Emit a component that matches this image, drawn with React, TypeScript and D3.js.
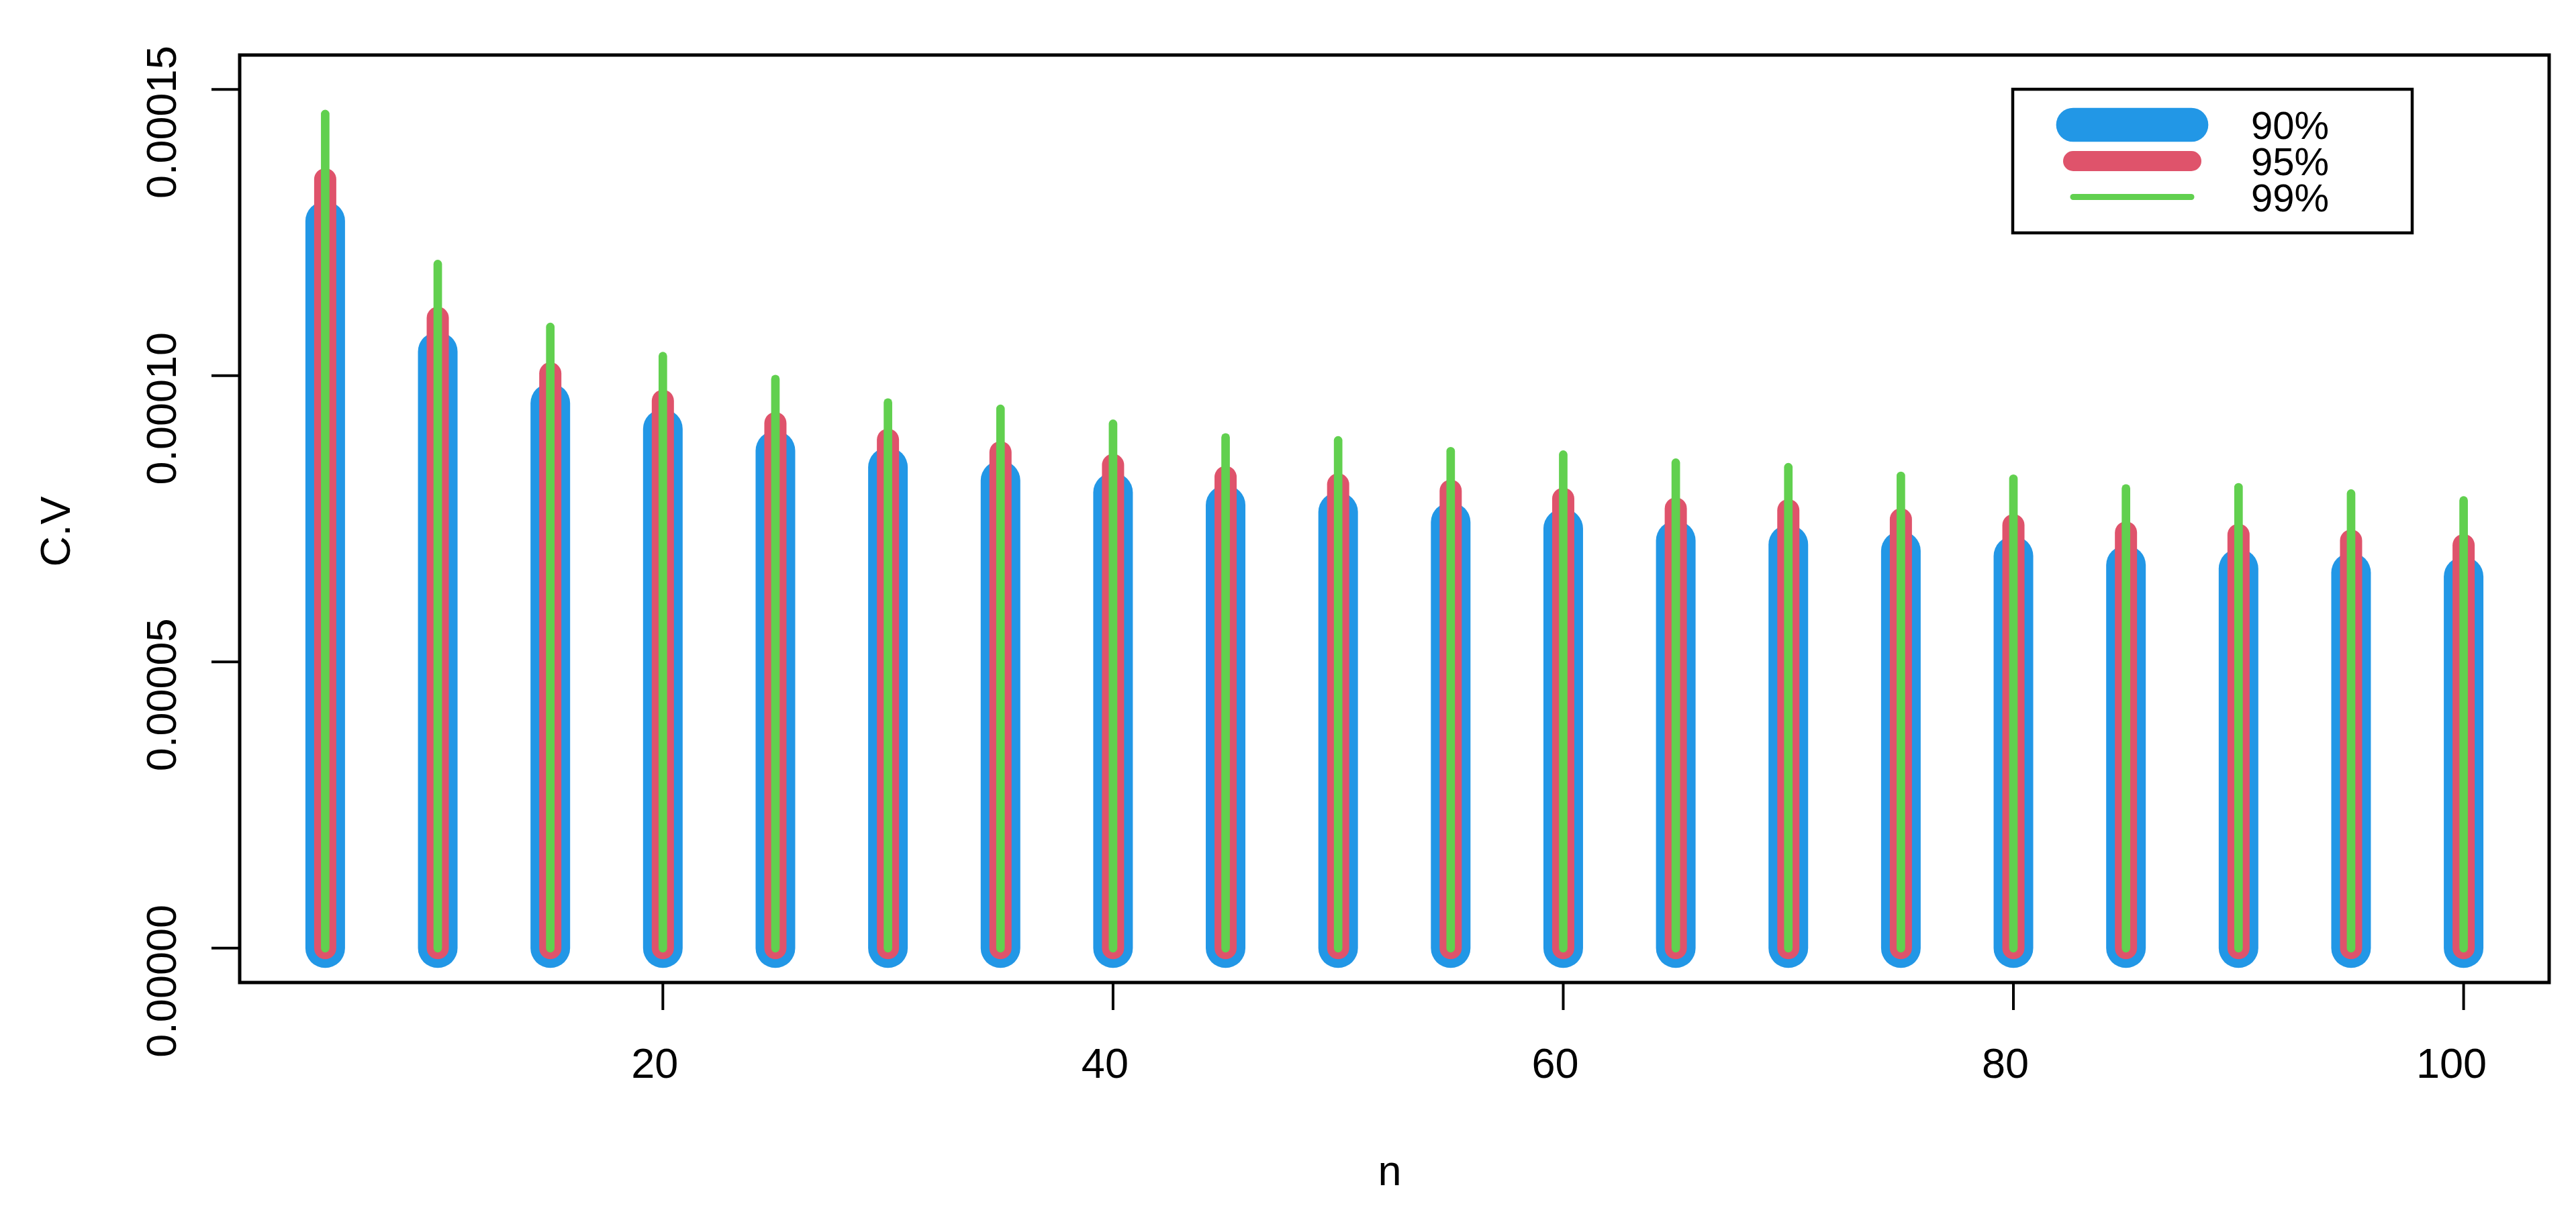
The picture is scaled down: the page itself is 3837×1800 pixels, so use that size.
import * as d3 from "d3";
import { useEffect, useRef } from "react";

// sample sizes and C.V values
const nValues = [5, 10, 15, 20, 25, 30, 35, 40, 45, 50, 55, 60, 65, 70, 75, 80, 85, 90, 95, 100];
const cv90 = [
  1.270e-4, 1.042e-4, 9.52e-5, 9.07e-5, 8.69e-5, 8.40e-5, 8.17e-5, 7.96e-5, 7.74e-5, 7.62e-5,
  7.44e-5, 7.33e-5, 7.12e-5, 7.05e-5, 6.94e-5, 6.85e-5, 6.69e-5, 6.63e-5, 6.56e-5, 6.49e-5,
];
const cv95 = [
  1.343e-4, 1.101e-4, 1.004e-4, 9.56e-5, 9.17e-5, 8.88e-5, 8.66e-5, 8.44e-5, 8.23e-5, 8.10e-5,
  7.99e-5, 7.85e-5, 7.68e-5, 7.65e-5, 7.49e-5, 7.39e-5, 7.26e-5, 7.22e-5, 7.12e-5, 7.04e-5,
];
const cv99 = [
  1.457e-4, 1.195e-4, 1.085e-4, 1.034e-4, 9.94e-5, 9.53e-5, 9.42e-5, 9.16e-5, 8.92e-5, 8.87e-5,
  8.68e-5, 8.62e-5, 8.48e-5, 8.40e-5, 8.25e-5, 8.20e-5, 8.03e-5, 8.05e-5, 7.94e-5, 7.82e-5,
];
const xTicks = [20, 40, 60, 80, 100];
const yTicks = [0, 0.00005, 0.0001, 0.00015];
const legendLabels = ["90%", "95%", "99%"];

const App = () => {
  const ref = useRef(null);
  useEffect(() => {
    const width = 3837,
      height = 1800;
    const font = "'Liberation Sans', Arial, Helvetica, sans-serif";

    const svg = d3.select(ref.current);
    svg.selectAll("*").remove();
    svg.append("rect").attr("width", width).attr("height", height).attr("fill", "#fff");

    // R style: 4% padding around the data range
    const xDom = [5, 100];
    const xPad = (xDom[1] - xDom[0]) * 0.04;
    const yDom = [0, 0.00015];
    const yPad = (yDom[1] - yDom[0]) * 0.04;
    const left = 357,
      right = 3797,
      top = 82,
      bottom = 1464;

    const x = d3.scaleLinear().domain([xDom[0] - xPad, xDom[1] + xPad]).range([left, right]);
    const y = d3.scaleLinear().domain([yDom[0] - yPad, yDom[1] + yPad]).range([bottom, top]);

    // bars drawn as thick round-capped lines (type = "h")
    const series = [
      { values: cv90, color: "#2297E6", lw: 59 },
      { values: cv95, color: "#DF536B", lw: 33 },
      { values: cv99, color: "#61D04F", lw: 12.7 },
    ];
    series.forEach((s) => {
      svg
        .append("g")
        .selectAll("line")
        .data(nValues)
        .join("line")
        .attr("x1", (d) => x(d))
        .attr("x2", (d) => x(d))
        .attr("y1", y(0))
        .attr("y2", (d, i) => y(s.values[i]))
        .attr("stroke", s.color)
        .attr("stroke-width", s.lw)
        .attr("stroke-linecap", "round");
    });

    // box
    svg
      .append("rect")
      .attr("x", left)
      .attr("y", top)
      .attr("width", right - left)
      .attr("height", bottom - top)
      .attr("fill", "none")
      .attr("stroke", "#000")
      .attr("stroke-width", 5);

    // x axis
    const gx = svg.append("g");
    gx.selectAll("line")
      .data(xTicks)
      .join("line")
      .attr("x1", (d) => x(d))
      .attr("x2", (d) => x(d))
      .attr("y1", bottom)
      .attr("y2", bottom + 41)
      .attr("stroke", "#000")
      .attr("stroke-width", 4);
    gx.selectAll("text")
      .data(xTicks)
      .join("text")
      .attr("x", (d) => x(d) - String(d).length * 6)
      .attr("y", 1606)
      .attr("text-anchor", "middle")
      .attr("font-family", font)
      .attr("font-size", 63)
      .text((d) => String(d));

    // y axis
    const fmt = d3.format(".5f");
    const gy = svg.append("g");
    gy.selectAll("line")
      .data(yTicks)
      .join("line")
      .attr("x1", left - 42)
      .attr("x2", left)
      .attr("y1", (d) => y(d))
      .attr("y2", (d) => y(d))
      .attr("stroke", "#000")
      .attr("stroke-width", 4);
    gy.selectAll("text")
      .data(yTicks)
      .join("text")
      .attr("transform", (d) => `translate(262, ${y(d) + 49}) rotate(-90)`)
      .attr("text-anchor", "middle")
      .attr("font-family", font)
      .attr("font-size", 63)
      .text((d) => fmt(d));

    // axis titles
    svg
      .append("text")
      .attr("x", 2070)
      .attr("y", 1766)
      .attr("text-anchor", "middle")
      .attr("font-family", font)
      .attr("font-size", 63)
      .text("n");
    svg
      .append("text")
      .attr("transform", `translate(104, ${(top + bottom) / 2 + 19}) rotate(-90)`)
      .attr("text-anchor", "middle")
      .attr("font-family", font)
      .attr("font-size", 63)
      .text("C.V");

    // legend
    const lg = svg.append("g");
    lg.append("rect")
      .attr("x", 2998)
      .attr("y", 133)
      .attr("width", 595)
      .attr("height", 214)
      .attr("fill", "#fff")
      .attr("stroke", "#000")
      .attr("stroke-width", 4.5);
    const legendLw = [50.7, 30, 9];
    const legendY = [186, 240, 293.5];
    legendLabels.forEach((lab, i) => {
      lg.append("line")
        .attr("x1", 3088)
        .attr("x2", 3264)
        .attr("y1", legendY[i])
        .attr("y2", legendY[i])
        .attr("stroke", series[i].color)
        .attr("stroke-width", legendLw[i])
        .attr("stroke-linecap", "round");
      lg.append("text")
        .attr("x", 3353)
        .attr("y", legendY[i] + 21)
        .attr("font-family", font)
        .attr("font-size", 58)
        .text(lab);
    });
  }, []);

  return (
    <div style={{ position: "absolute", left: 0, top: 0 }}>
      <svg ref={ref} width={3837} height={1800} style={{ display: "block" }} />
    </div>
  );
};

export default App;
